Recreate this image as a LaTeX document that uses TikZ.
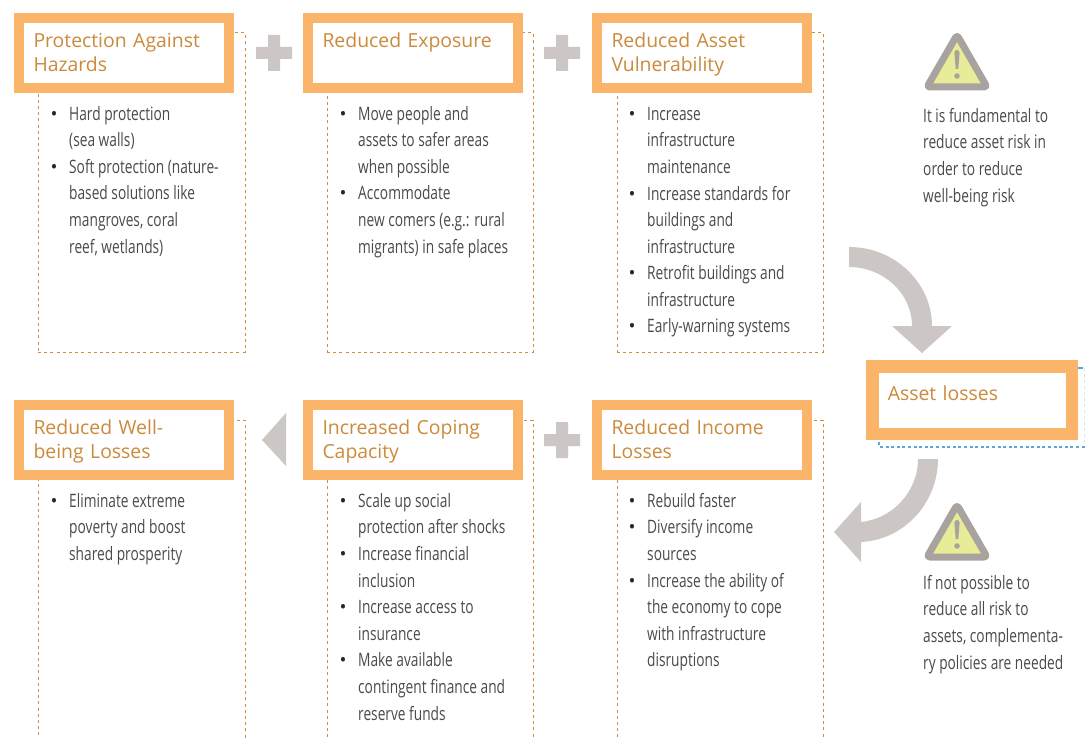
\documentclass[tikz,border=0pt]{standalone}
\usepackage{fontspec}
\setmainfont{Open Sans}
\newfontfamily\bodyfont[FakeStretch=0.742]{Open Sans}
\definecolor{frameor}{HTML}{FBB56B}
\definecolor{headtx}{HTML}{CB8A3C}
\definecolor{dashor}{HTML}{D48C3A}
\definecolor{dashbl}{HTML}{5AA7DC}
\definecolor{dashlb}{HTML}{CFE6F5}
\definecolor{arrowgr}{HTML}{CCC7C4}
\definecolor{warngr}{HTML}{A8A39F}
\definecolor{warnye}{HTML}{E8EC98}
\definecolor{bodytx}{HTML}{4A4A4A}
\newcommand{\bl}{\rule{0pt}{15pt}\llap{{\rmfamily\textcolor{black!85}{\textbullet}}\hspace{11.5pt}}}
\newcommand{\hl}{\rule[-5pt]{0pt}{23pt}}
\tikzset{
  x=1pt,y=-1pt,
  hbox/.style={draw=frameor,fill=white,line width=10pt,minimum width=210pt,minimum height=70pt,
    inner xsep=14.2pt,inner ysep=0pt,text width=181pt,align=left,text=headtx,
    font=\fontsize{19.4}{24}\selectfont},
  dbox/.style={draw=dashor,line width=1pt,dash pattern=on 3pt off 3.2pt,minimum width=206pt},
  bodytext/.style={anchor=north west,inner sep=0pt,align=left,text=bodytx,
    font=\bodyfont\fontsize{18.5}{26.6}\selectfont},
  plusmark/.style={fill=arrowgr,draw=none},
  warnbody/.style={draw=warngr,fill=warnye,line width=7pt,line join=round,rounded corners=3pt},
}
\newcommand{\plusat}[2]{\fill[plusmark] (#1-18,#2-6) -- (#1-6,#2-6) -- (#1-6,#2-18) -- (#1+6,#2-18) -- (#1+6,#2-6) -- (#1+18,#2-6) -- (#1+18,#2+6) -- (#1+6,#2+6) -- (#1+6,#2+18) -- (#1-6,#2+18) -- (#1-6,#2+6) -- (#1-18,#2+6) -- cycle;}
\newcommand{\warnat}[2]{%
  \draw[warnbody] (#1,#2) -- (#1+30,#2+52) -- (#1-30,#2+52) -- cycle;
  \fill[warngr] (#1-2.6,#2+18) .. controls (#1-2.6,#2+14) and (#1+2.6,#2+14) .. (#1+2.6,#2+18) -- (#1+1.3,#2+34) -- (#1-1.3,#2+34) -- cycle;
  \fill[warngr] (#1,#2+41) circle (2.8);
}
\begin{document}
\begin{tikzpicture}
\path[use as bounding box] (0,0) rectangle (1085,738);
\clip (0,0) rectangle (1085,738);
\fill[white] (0,0) rectangle (1085,738);

% dashed panels
\node[dbox,minimum width=207pt,minimum height=319pt] (d1) at (141.5,192.5) {};
\node[dbox,minimum height=319pt] (d2) at (430,192.5) {};
\node[dbox,minimum height=319pt] (d3) at (720,192.5) {};
\node[dbox,minimum width=207pt,minimum height=340pt] (d4) at (141.5,590) {};
\node[dbox,minimum height=340pt] (d5) at (430,590) {};
\node[dbox,minimum height=340pt] (d6) at (720,590) {};
% asset dashed panel
\draw[dashlb,line width=1.1pt,dash pattern=on 3pt off 3pt] (1084.5,368) -- (1084.5,447);
\draw[dashbl,line width=1.2pt,dash pattern=on 3pt off 2.6pt] (1084.5,447) -- (879,447) -- (879,440);
\draw[dashbl,line width=1.1pt] (1078,368) -- (1083,368);

% heading boxes
\node[hbox] (h1) at (124,53) {\hl Protection Against\\\hl Hazards};
\node[hbox] (h2) at (413,53) {\hl Reduced Exposure\\\hl};
\node[hbox] (h3) at (702,53) {\hl Reduced Asset\\\hl Vulnerability};
\node[hbox] (h4) at (124,440) {\hl Reduced Well-\\\hl being Losses};
\node[hbox] (h5) at (413,440) {\hl Increased Coping\\\hl Capacity};
\node[hbox] (h6) at (702,440) {\hl Reduced Income\\\hl Losses};
\node[hbox,line width=12.5pt,minimum width=199.5pt,minimum height=67.5pt,text width=168.5pt,inner xsep=15.5pt] (h7) at (972,400) {\rule[-14pt]{0pt}{28pt}Asset losses};

% body text
\node[bodytext] (b1) at (69,105) {\bl Hard protection\\(sea walls)\\\bl Soft protection (nature-\\based solutions like\\mangroves, coral\\reef, wetlands)};
\node[bodytext] (b2) at (358,105) {\bl Move people and\\assets to safer areas\\when possible\\\bl Accommodate\\new comers (e.g.: rural\\migrants) in safe places};
\node[bodytext] (b3) at (647,105) {\bl Increase\\infrastructure\\maintenance\\\bl Increase standards for\\buildings and\\infrastructure\\\bl Retrofit buildings and\\infrastructure\\\bl Early-warning systems};
\node[bodytext] (b4) at (69,492) {\bl Eliminate extreme\\poverty and boost\\shared prosperity};
\node[bodytext] (b5) at (358,492) {\bl Scale up social\\protection after shocks\\\bl Increase financial\\inclusion\\\bl Increase access to\\insurance\\\bl Make available\\contingent finance and\\reserve funds};
\node[bodytext] (b6) at (647,492) {\bl Rebuild faster\\\bl Diversify income\\sources\\\bl Increase the ability of\\the economy to cope\\with infrastructure\\disruptions};
\node[bodytext] (n1) at (923,108) {It is fundamental to\\reduce asset risk in\\order to reduce\\well-being risk};
\node[bodytext] (n2) at (923,575) {If not possible to\\reduce all risk to\\assets, complementa-\\ry policies are needed};

% operators
\plusat{274}{53}
\plusat{562}{53}
\plusat{562}{440}
\fill[arrowgr] (262,440) -- (286,413) -- (286,466) -- cycle;

% curved arrows
\fill[arrowgr] (849,247) .. controls (895,247) and (932,283) .. (932,326) -- (952,326) -- (922,353) -- (892,326) -- (912,326) .. controls (912,293) and (883,267) .. (849,267) -- cycle;
\fill[arrowgr] (938,459) .. controls (938,503) and (904,540) .. (861,542) -- (861,562) -- (834,532) -- (861,502) -- (861,522) .. controls (892,519) and (918,492) .. (918,459) -- cycle;

% warning signs
\warnat{957}{35}
\warnat{957}{505}
\end{tikzpicture}
\end{document}
